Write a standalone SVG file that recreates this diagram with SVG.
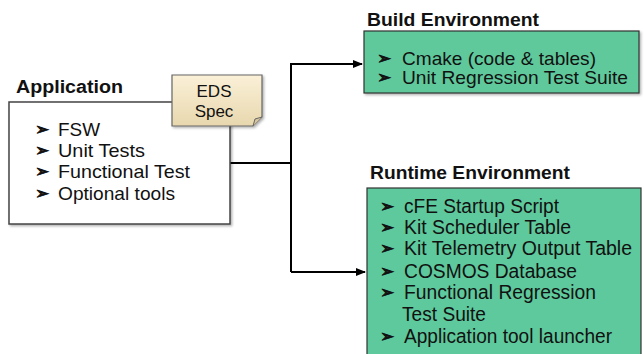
<svg xmlns="http://www.w3.org/2000/svg" width="644" height="354" viewBox="0 0 644 354">
<defs>
<style>
text{font-family:"Liberation Sans",Arial,sans-serif;fill:#111}
.t{font-size:19px}
.r{font-size:20px}
.b{font-family:"DejaVu Sans",sans-serif;font-size:17px;stroke:#111;stroke-width:0.7}
.h{font-size:18px;font-weight:bold}
.box{fill:#fff;stroke:#444;stroke-width:1.5}
.env{fill:#5ec99c;stroke:#333;stroke-width:1.2}
.c{fill:none;stroke:#000;stroke-width:2}
</style>
<linearGradient id="note" x1="0" y1="0" x2="0" y2="1">
<stop offset="0" stop-color="#fbf1d8"/>
<stop offset="1" stop-color="#e8d7ae"/>
</linearGradient>
<marker id="ar" viewBox="0 0 10 10" refX="9" refY="5" markerWidth="5" markerHeight="5" orient="auto" markerUnits="strokeWidth">
<path d="M0,1 L10,5 L0,9 z" fill="#000"/>
</marker>
<filter id="sh" x="-5%" y="-5%" width="115%" height="115%">
<feDropShadow dx="1.5" dy="1.5" stdDeviation="1.2" flood-color="#000" flood-opacity="0.3"/>
</filter>
</defs>

<g id="connectors">
<path class="c" d="M230,163 H291"/>
<path class="c" d="M291,272 V64 H362" marker-end="url(#ar)"/>
<path class="c" d="M291,272 H365" marker-end="url(#ar)"/>
</g>

<g id="application">
<text class="h" x="16" y="93" textLength="107" lengthAdjust="spacingAndGlyphs">Application</text>
<rect class="box" x="9" y="102" width="221" height="122" filter="url(#sh)"/>
<text class="b" x="35" y="135">➢</text>
<text class="t" x="58" y="136" textLength="42" lengthAdjust="spacingAndGlyphs">FSW</text>
<text class="b" x="35" y="156">➢</text>
<text class="t" x="58" y="157" textLength="87" lengthAdjust="spacingAndGlyphs">Unit Tests</text>
<text class="b" x="35" y="177">➢</text>
<text class="t" x="58" y="178" textLength="132" lengthAdjust="spacingAndGlyphs">Functional Test</text>
<text class="b" x="35" y="199">➢</text>
<text class="t" x="58" y="200" textLength="117" lengthAdjust="spacingAndGlyphs">Optional tools</text>
</g>

<g id="eds-spec">
<path d="M172,75 H262 V117 L253,126 H172 Z" fill="url(#note)" stroke="#666" stroke-width="1.2" filter="url(#sh)"/>
<path d="M253,126 L255,119 L262,117" fill="#d6c59c" stroke="#666" stroke-width="1"/>
<text x="214" y="97" text-anchor="middle" font-size="17px">EDS</text>
<text x="214" y="117" text-anchor="middle" font-size="17px">Spec</text>
</g>

<g id="build-environment">
<text class="h" x="367" y="26" textLength="172" lengthAdjust="spacingAndGlyphs">Build Environment</text>
<rect class="env" x="364" y="31" width="275" height="62" filter="url(#sh)"/>
<text class="b" x="377" y="64">➢</text>
<text class="t" x="402" y="65" textLength="194" lengthAdjust="spacingAndGlyphs">Cmake (code &amp; tables)</text>
<text class="b" x="377" y="83">➢</text>
<text class="t" x="402" y="84" textLength="226" lengthAdjust="spacingAndGlyphs">Unit Regression Test Suite</text>
</g>

<g id="runtime-environment">
<text class="h" x="370" y="179" textLength="200" lengthAdjust="spacingAndGlyphs">Runtime Environment</text>
<rect class="env" x="367" y="188" width="274" height="170"/>
<text class="b" x="380" y="212">➢</text>
<text class="r" x="404" y="213" textLength="155" lengthAdjust="spacingAndGlyphs">cFE Startup Script</text>
<text class="b" x="380" y="233">➢</text>
<text class="r" x="404" y="234" textLength="167" lengthAdjust="spacingAndGlyphs">Kit Scheduler Table</text>
<text class="b" x="380" y="254">➢</text>
<text class="r" x="404" y="255" textLength="228" lengthAdjust="spacingAndGlyphs">Kit Telemetry Output Table</text>
<text class="b" x="380" y="277">➢</text>
<text class="r" x="404" y="278" textLength="173" lengthAdjust="spacingAndGlyphs">COSMOS Database</text>
<text class="b" x="380" y="298">➢</text>
<text class="r" x="404" y="299" textLength="192" lengthAdjust="spacingAndGlyphs">Functional Regression</text>
<text class="r" x="402" y="321" textLength="84" lengthAdjust="spacingAndGlyphs">Test Suite</text>
<text class="b" x="380" y="342">➢</text>
<text class="r" x="404" y="343" textLength="208" lengthAdjust="spacingAndGlyphs">Application tool launcher</text>
</g>
</svg>
